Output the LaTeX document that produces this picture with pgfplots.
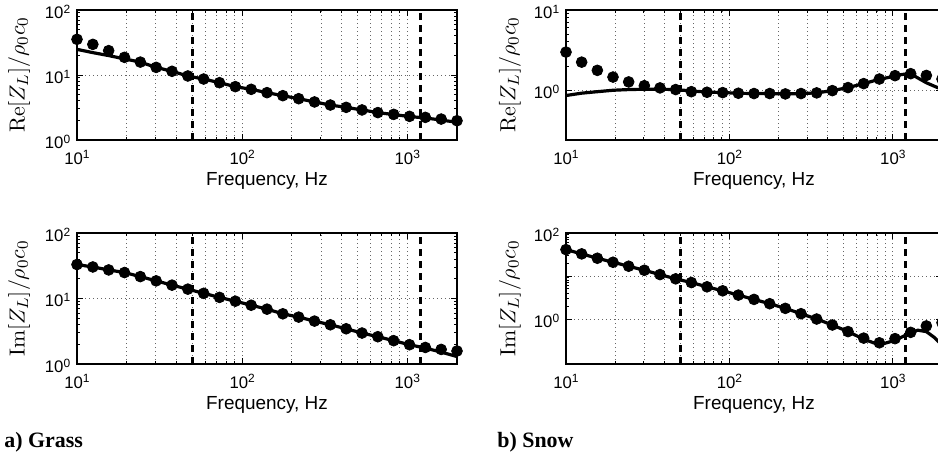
\documentclass[border=0pt]{standalone}
\usepackage[no-math]{fontspec}
\usepackage{pgfplots}
\usepackage{pgfplotstable}
\pgfplotsset{compat=1.18}
\newfontfamily\helv{Liberation Sans}
\newfontfamily\tms{Liberation Serif}
\newcommand\sps[1]{\raisebox{2.6bp}{\fontsize{6}{7}\selectfont #1}}

% measured points (25 log-spaced frequencies)
\pgfplotstableread{
f       gre    gim    sre    sim
10.000  35.4   33.0   2.99   41.1
12.470  29.6   30.3   2.24   32.7
15.551  23.7   27.3   1.77   25.9
19.392  18.7   24.9   1.46   20.9
24.183  15.8   21.6   1.27   16.9
30.157  13.1   18.6   1.14   13.6
37.606  11.4   16.0   1.07   10.8
46.897  9.66   13.9   1.02   8.6
58.481  8.67   12.0   0.96   7.06
72.928  7.62   10.4   0.944  5.61
90.943  6.62   9.1    0.935  4.53
113.41  6.02   7.9    0.918  3.6
141.42  5.35   6.88   0.91   2.86
176.36  4.81   5.84   0.91   2.27
219.93  4.32   5.2    0.90   1.77
274.26  3.85   4.52   0.91   1.33
342.00  3.45   3.97   0.927  1.0
426.49  3.18   3.45   0.99   0.726
531.85  2.9    2.97   1.08   0.51
663.23  2.64   2.61   1.21   0.36
827.06  2.48   2.27   1.38   0.28
1031.4  2.31   1.97   1.52   0.35
1286.2  2.23   1.79   1.61   0.49
1603.9  2.1    1.67   1.53   0.69
2000.0  1.98   1.58   1.38   0.82
}\measdata

% model curves
\pgfplotstableread{
f       gre    gim
10.000  24.8   33.0
12.470  22.1   30.3
15.551  19.9   27.3
19.392  17.7   24.9
24.183  15.8   21.6
30.157  13.1   18.6
37.606  11.4   16.0
46.897  9.66   13.9
58.481  8.67   12.0
72.928  7.62   10.4
90.943  6.62   9.1
113.41  6.02   7.9
141.42  5.35   6.88
176.36  4.81   5.84
219.93  4.32   5.2
274.26  3.85   4.52
342.00  3.45   3.97
426.49  3.18   3.45
531.85  2.9    2.97
663.23  2.64   2.61
827.06  2.46   2.27
1031.4  2.30   1.97
1286.2  2.18   1.75
1603.9  2.03   1.52
2000.0  1.87   1.30
}\grassmodel

\pgfplotstableread{
f       sre
10.000  0.86
12.470  0.92
15.551  0.96
19.392  1.00
24.183  1.02
30.157  1.03
37.606  1.03
46.897  1.02
58.481  0.98
72.928  0.95
90.943  0.935
113.41  0.918
141.42  0.91
176.36  0.91
219.93  0.90
274.26  0.91
342.00  0.927
426.49  0.99
531.85  1.08
663.23  1.21
827.06  1.37
1031.4  1.50
1110.0  1.56
1240.0  1.61
1300.0  1.59
1400.0  1.45
1603.9  1.24
1800.0  1.12
1900.0  1.07
2000.0  1.03
}\snowmodelre

\pgfplotstableread{
f       sim
10.000  41.1
12.470  32.7
15.551  25.9
19.392  20.9
24.183  16.9
30.157  13.6
37.606  10.8
46.897  8.6
58.481  7.06
72.928  5.61
90.943  4.53
113.41  3.6
141.42  2.86
176.36  2.27
219.93  1.77
274.26  1.33
342.00  1.0
426.49  0.726
531.85  0.51
663.23  0.34
827.06  0.25
1031.4  0.32
1286.2  0.48
1420.0  0.55
1603.9  0.51
1800.0  0.37
1900.0  0.30
2000.0  0.25
}\snowmodelim

\pgfplotsset{
  /pgfplots/gaxis/.style={
    scale only axis,
    xmin=10, xmax=2000,
    xtick={10,100,1000},
    xticklabels={10\sps{1},10\sps{2},10\sps{3}},
    tick align=inside,
    major tick length=3bp, minor tick length=1.6bp,
    xmajorgrids, xminorgrids, ymajorgrids,
    grid style={black!60, line width=0.4bp, dash pattern=on 0.5bp off 1.5bp},
    minor grid style={black!60, line width=0.4bp, dash pattern=on 0.5bp off 1.5bp},
    major grid style={black!60, line width=0.4bp, dash pattern=on 0.5bp off 1.5bp},
    axis line style={line width=0.9bp},
    tick style={black, line width=0.5bp},
    tick label style={font=\helv\fontsize{8.4}{10}\selectfont},
    xticklabel style={anchor=base, inner sep=0pt, yshift=-12bp},
    yticklabel style={anchor=base east, inner sep=0pt, xshift=-3.2bp, yshift=-4.2bp},
    xlabel={Frequency, Hz},
    xlabel style={font=\helv\fontsize{9.5}{11}\selectfont, at={(axis description cs:0.5,0)}, anchor=base, inner sep=0pt, yshift=-22.5bp},
    ylabel style={font=\fontsize{11}{13}\selectfont, anchor=center},
  },
}

\begin{document}
\begin{tikzpicture}
% a) Grass, Re
\begin{loglogaxis}[gaxis, at={(38.5bp,-70bp)}, anchor=south west, width=190bp, height=65bp,
  ymin=1, ymax=100, ytick={1,10,100},
  yticklabels={10\sps{0},10\sps{1},10\sps{2}},
  ylabel={$\mathrm{Re}[Z_L]/\rho_0c_0$},
  ylabel style={at={(axis description cs:-0.152,0.5)}}]
\addplot[black, line width=1.3bp, dash pattern=on 3.5bp off 2.5bp] coordinates {(50,1) (50,100)};
\addplot[black, line width=1.3bp, dash pattern=on 3.5bp off 2.5bp] coordinates {(1200,1) (1200,100)};
\addplot[black, line width=1.6bp] table[x=f, y=gre] {\grassmodel};
\addplot[only marks, mark=*, mark size=2.7bp, black] table[x=f, y=gre] {\measdata};
\end{loglogaxis}
% a) Grass, Im
\begin{loglogaxis}[gaxis, at={(38.5bp,-182bp)}, anchor=south west, width=190bp, height=65.5bp,
  ymin=1, ymax=100, ytick={1,10,100},
  yticklabels={10\sps{0},10\sps{1},10\sps{2}},
  ylabel={$\mathrm{Im}[Z_L]/\rho_0c_0$},
  ylabel style={at={(axis description cs:-0.152,0.5)}}]
\addplot[black, line width=1.3bp, dash pattern=on 3.5bp off 2.5bp] coordinates {(50,1) (50,100)};
\addplot[black, line width=1.3bp, dash pattern=on 3.5bp off 2.5bp] coordinates {(1200,1) (1200,100)};
\addplot[black, line width=1.6bp] table[x=f, y=gim] {\grassmodel};
\addplot[only marks, mark=*, mark size=2.7bp, black] table[x=f, y=gim] {\measdata};
\end{loglogaxis}
% b) Snow, Re
\begin{loglogaxis}[gaxis, at={(283bp,-70bp)}, anchor=south west, width=188bp, height=65bp,
  ymin=0.24, ymax=10, ytick={1,10},
  yticklabels={10\sps{0},10\sps{1}},
  ylabel={$\mathrm{Re}[Z_L]/\rho_0c_0$},
  ylabel style={at={(axis description cs:-0.149,0.5)}}]
\addplot[black, line width=1.3bp, dash pattern=on 3.5bp off 2.5bp] coordinates {(50,0.24) (50,10)};
\addplot[black, line width=1.3bp, dash pattern=on 3.5bp off 2.5bp] coordinates {(1200,0.24) (1200,10)};
\addplot[black, line width=1.6bp] table[x=f, y=sre] {\snowmodelre};
\addplot[only marks, mark=*, mark size=2.7bp, black] table[x=f, y=sre] {\measdata};
\end{loglogaxis}
% b) Snow, Im
\begin{loglogaxis}[gaxis, at={(283bp,-182bp)}, anchor=south west, width=188bp, height=65.5bp,
  ymin=0.09, ymax=100, ytick={1,10,100},
  yticklabels={10\sps{0},,10\sps{2}},
  ylabel={$\mathrm{Im}[Z_L]/\rho_0c_0$},
  ylabel style={at={(axis description cs:-0.149,0.5)}}]
\addplot[black, line width=1.3bp, dash pattern=on 3.5bp off 2.5bp] coordinates {(50,0.09) (50,100)};
\addplot[black, line width=1.3bp, dash pattern=on 3.5bp off 2.5bp] coordinates {(1200,0.09) (1200,100)};
\addplot[black, line width=1.6bp] table[x=f, y=sim] {\snowmodelim};
\addplot[only marks, mark=*, mark size=2.7bp, black] table[x=f, y=sim] {\measdata};
\end{loglogaxis}
\node[anchor=base west, inner sep=0pt, font=\tms\bfseries\fontsize{11}{13}\selectfont] at (2bp,-223.5bp) {a) Grass};
\node[anchor=base west, inner sep=0pt, font=\tms\bfseries\fontsize{11}{13}\selectfont] at (248.5bp,-223.5bp) {b) Snow};
\pgfresetboundingbox
\useasboundingbox (0,0) rectangle (469bp,-230bp);
\end{tikzpicture}
\end{document}
